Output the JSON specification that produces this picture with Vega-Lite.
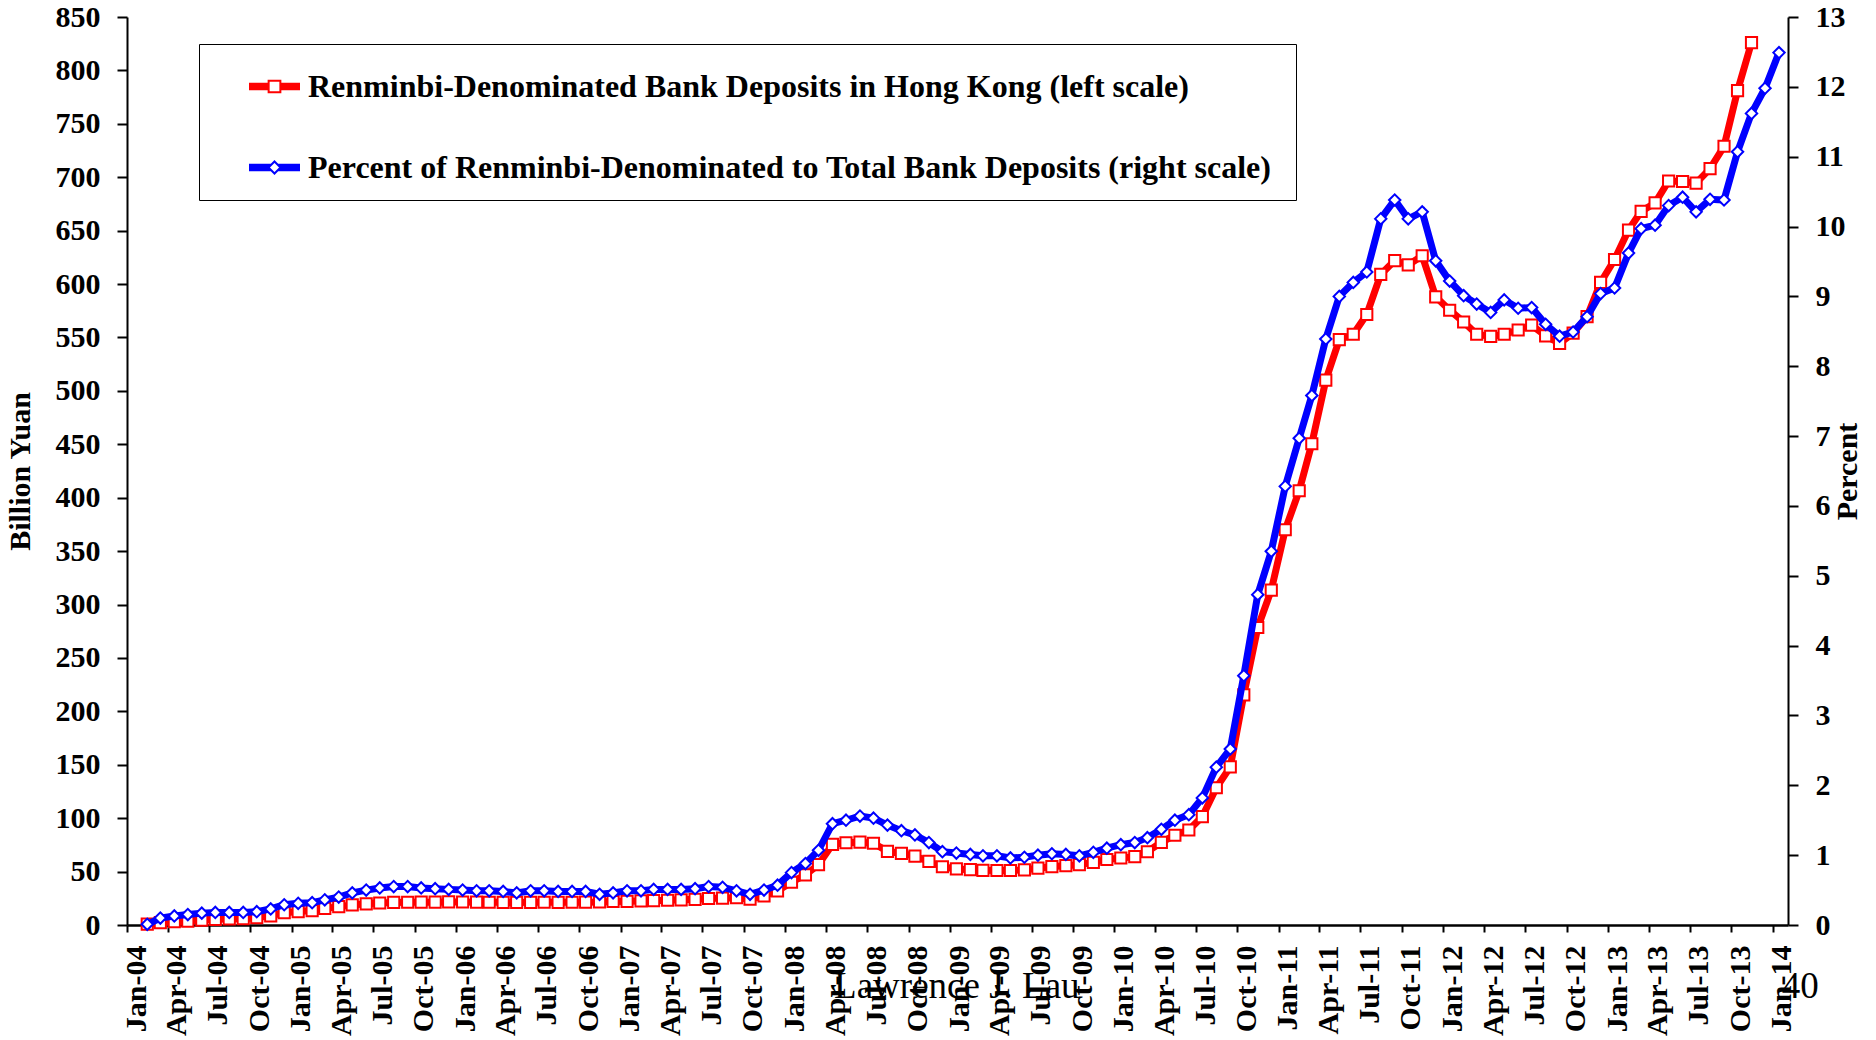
{
  "$schema": "https://vega.github.io/schema/vega-lite/v6.json",
  "autosize": {"type": "none"},
  "padding": {"left": 127, "top": 17, "right": 88, "bottom": 115},
  "width": 1661,
  "height": 908,
  "background": "white",
  "config": {"view": {"stroke": null}},
  "data": {"values": [
    {"date":"2004-02-15","deposits":0.9,"percent":0.01},{"date":"2004-03-15","deposits":2.2,"percent":0.10},{"date":"2004-04-15","deposits":3.1,"percent":0.13},{"date":"2004-05-15","deposits":3.7,"percent":0.15},{"date":"2004-06-15","deposits":4.6,"percent":0.17},{"date":"2004-07-15","deposits":5.3,"percent":0.18},{"date":"2004-08-15","deposits":5.6,"percent":0.18},{"date":"2004-09-15","deposits":5.9,"percent":0.18},{"date":"2004-10-15","deposits":6.9,"percent":0.19},{"date":"2004-11-15","deposits":8.5,"percent":0.23},{"date":"2004-12-15","deposits":11.5,"percent":0.29},
    {"date":"2005-01-15","deposits":12.6,"percent":0.31},{"date":"2005-02-15","deposits":13.5,"percent":0.32},{"date":"2005-03-15","deposits":15.5,"percent":0.36},{"date":"2005-04-15","deposits":17.2,"percent":0.40},{"date":"2005-05-15","deposits":18.8,"percent":0.46},{"date":"2005-06-15","deposits":19.8,"percent":0.50},{"date":"2005-07-15","deposits":20.6,"percent":0.53},{"date":"2005-08-15","deposits":21.1,"percent":0.55},{"date":"2005-09-15","deposits":21.3,"percent":0.55},{"date":"2005-10-15","deposits":21.4,"percent":0.53},{"date":"2005-11-15","deposits":21.4,"percent":0.52},{"date":"2005-12-15","deposits":21.6,"percent":0.51},
    {"date":"2006-01-15","deposits":21.5,"percent":0.50},{"date":"2006-02-15","deposits":21.4,"percent":0.49},{"date":"2006-03-15","deposits":21.3,"percent":0.49},{"date":"2006-04-15","deposits":21.2,"percent":0.48},{"date":"2006-05-15","deposits":21.1,"percent":0.46},{"date":"2006-06-15","deposits":21.2,"percent":0.49},{"date":"2006-07-15","deposits":21.3,"percent":0.49},{"date":"2006-08-15","deposits":21.2,"percent":0.48},{"date":"2006-09-15","deposits":21.3,"percent":0.48},{"date":"2006-10-15","deposits":21.4,"percent":0.48},{"date":"2006-11-15","deposits":21.5,"percent":0.44},{"date":"2006-12-15","deposits":22.0,"percent":0.46},
    {"date":"2007-01-15","deposits":22.2,"percent":0.49},{"date":"2007-02-15","deposits":22.5,"percent":0.49},{"date":"2007-03-15","deposits":22.8,"percent":0.51},{"date":"2007-04-15","deposits":23.2,"percent":0.51},{"date":"2007-05-15","deposits":23.6,"percent":0.51},{"date":"2007-06-15","deposits":24.0,"percent":0.52},{"date":"2007-07-15","deposits":24.8,"percent":0.55},{"date":"2007-08-15","deposits":25.2,"percent":0.54},{"date":"2007-09-15","deposits":25.5,"percent":0.49},{"date":"2007-10-15","deposits":24.2,"percent":0.44},{"date":"2007-11-15","deposits":27.2,"percent":0.50},{"date":"2007-12-15","deposits":32.0,"percent":0.57},
    {"date":"2008-01-15","deposits":40.0,"percent":0.75},{"date":"2008-02-15","deposits":47.0,"percent":0.88},{"date":"2008-03-15","deposits":56.5,"percent":1.07},{"date":"2008-04-15","deposits":75.5,"percent":1.45},{"date":"2008-05-15","deposits":77.0,"percent":1.50},{"date":"2008-06-15","deposits":77.5,"percent":1.56},{"date":"2008-07-15","deposits":76.5,"percent":1.53},{"date":"2008-08-15","deposits":69.0,"percent":1.43},{"date":"2008-09-15","deposits":67.0,"percent":1.35},{"date":"2008-10-15","deposits":64.5,"percent":1.29},{"date":"2008-11-15","deposits":59.5,"percent":1.18},{"date":"2008-12-15","deposits":54.5,"percent":1.05},
    {"date":"2009-01-15","deposits":52.5,"percent":1.03},{"date":"2009-02-15","deposits":51.8,"percent":1.01},{"date":"2009-03-15","deposits":51.2,"percent":0.99},{"date":"2009-04-15","deposits":51.0,"percent":0.99},{"date":"2009-05-15","deposits":51.0,"percent":0.96},{"date":"2009-06-15","deposits":51.6,"percent":0.97},{"date":"2009-07-15","deposits":53.2,"percent":1.00},{"date":"2009-08-15","deposits":54.7,"percent":1.02},{"date":"2009-09-15","deposits":55.5,"percent":1.01},{"date":"2009-10-15","deposits":56.5,"percent":0.99},{"date":"2009-11-15","deposits":58.6,"percent":1.04},{"date":"2009-12-15","deposits":61.3,"percent":1.10},
    {"date":"2010-01-15","deposits":62.7,"percent":1.15},{"date":"2010-02-15","deposits":64.0,"percent":1.18},{"date":"2010-03-15","deposits":68.6,"percent":1.25},{"date":"2010-04-15","deposits":77.4,"percent":1.37},{"date":"2010-05-15","deposits":84.0,"percent":1.50},{"date":"2010-06-15","deposits":88.9,"percent":1.58},{"date":"2010-07-15","deposits":101.5,"percent":1.82},{"date":"2010-08-15","deposits":128.5,"percent":2.26},{"date":"2010-09-15","deposits":148.0,"percent":2.52},{"date":"2010-10-15","deposits":215.5,"percent":3.57},{"date":"2010-11-15","deposits":278.5,"percent":4.73},{"date":"2010-12-15","deposits":313.5,"percent":5.35},
    {"date":"2011-01-15","deposits":370.0,"percent":6.28},{"date":"2011-02-15","deposits":406.5,"percent":6.97},{"date":"2011-03-15","deposits":450.5,"percent":7.58},{"date":"2011-04-15","deposits":510.0,"percent":8.39},{"date":"2011-05-15","deposits":548.0,"percent":9.00},{"date":"2011-06-15","deposits":553.0,"percent":9.20},{"date":"2011-07-15","deposits":571.5,"percent":9.35},{"date":"2011-08-15","deposits":609.0,"percent":10.11},{"date":"2011-09-15","deposits":622.0,"percent":10.38},{"date":"2011-10-15","deposits":618.0,"percent":10.11},{"date":"2011-11-15","deposits":626.5,"percent":10.21},{"date":"2011-12-15","deposits":588.0,"percent":9.51},
    {"date":"2012-01-15","deposits":575.5,"percent":9.22},{"date":"2012-02-15","deposits":564.5,"percent":9.01},{"date":"2012-03-15","deposits":553.0,"percent":8.89},{"date":"2012-04-15","deposits":551.0,"percent":8.77},{"date":"2012-05-15","deposits":553.0,"percent":8.95},{"date":"2012-06-15","deposits":557.0,"percent":8.83},{"date":"2012-07-15","deposits":561.5,"percent":8.84},{"date":"2012-08-15","deposits":551.5,"percent":8.60},{"date":"2012-09-15","deposits":544.5,"percent":8.43},{"date":"2012-10-15","deposits":554.0,"percent":8.49},{"date":"2012-11-15","deposits":569.5,"percent":8.71},{"date":"2012-12-15","deposits":601.5,"percent":9.04},
    {"date":"2013-01-15","deposits":623.0,"percent":9.12},{"date":"2013-02-15","deposits":650.5,"percent":9.62},{"date":"2013-03-15","deposits":668.0,"percent":9.97},{"date":"2013-04-15","deposits":676.0,"percent":10.02},{"date":"2013-05-15","deposits":696.5,"percent":10.30},{"date":"2013-06-15","deposits":696.0,"percent":10.42},{"date":"2013-07-15","deposits":694.5,"percent":10.21},{"date":"2013-08-15","deposits":708.0,"percent":10.39},{"date":"2013-09-15","deposits":729.0,"percent":10.38},{"date":"2013-10-15","deposits":781.0,"percent":11.07},{"date":"2013-11-15","deposits":826.0,"percent":11.62},{"date":"2013-12-15","deposits":null,"percent":11.98},
    {"date":"2014-01-15","deposits":null,"percent":12.49}
  ]},
  "encoding": {
    "x": {
      "field": "date", "type": "temporal",
      "scale": {"type": "utc", "domain": [{"year": 2004, "month": 1, "date": 1, "utc": true}, {"year": 2014, "month": 2, "date": 4, "utc": true}]},
      "axis": {
        "title": null,
        "tickCount": {"interval": "month", "step": 3},
        "labelExpr": "utcFormat(datum.value, '%b-%y')",
        "labelAngle": -90, "labelOffset": 9, "labelPadding": 13,
        "labelFont": "Liberation Serif", "labelFontWeight": "bold", "labelFontSize": 30, "labelColor": "black",
        "labelOverlap": false, "labelFlush": false, "labelBound": false,
        "tickSize": 7, "tickWidth": 2, "tickColor": "black",
        "domainColor": "black", "domainWidth": 2.5, "grid": false
      }
    }
  },
  "layer": [
    {
      "encoding": {
        "y": {
          "field": "deposits", "type": "quantitative",
          "scale": {"domain": [0, 850], "nice": false},
          "axis": {
            "orient": "left", "title": "Billion Yuan",
            "values": [0,50,100,150,200,250,300,350,400,450,500,550,600,650,700,750,800,850],
            "labelFont": "Liberation Serif", "labelFontWeight": "bold", "labelFontSize": 30, "labelColor": "black", "labelPadding": 17,
            "tickSize": 10, "tickWidth": 2, "tickColor": "black", "domainColor": "black", "domainWidth": 2, "grid": false,
            "titleFont": "Liberation Serif", "titleFontWeight": "bold", "titleFontSize": 30, "titleColor": "black", "titlePadding": 20
          }
        }
      },
      "layer": [
        {"mark": {"type": "line", "color": "#ff0000", "strokeWidth": 7}},
        {
          "mark": {"type": "point", "shape": "square", "size": 125, "fill": "white", "strokeWidth": 2, "opacity": 1},
          "encoding": {
            "stroke": {
              "datum": "Renminbi-Denominated Bank Deposits in Hong Kong (left scale)", "type": "nominal",
              "scale": {"domain": ["Renminbi-Denominated Bank Deposits in Hong Kong (left scale)", "Percent of Renminbi-Denominated  to Total Bank Deposits (right scale)"], "range": ["#ff0000", "#0000ff"]},
              "legend": {
                "title": null, "orient": "none", "legendX": 72, "legendY": 27, "direction": "vertical",
                "padding": 16, "strokeColor": "black", "fillColor": "white",
                "symbolSize": 2601, "symbolOffset": 33, "labelOffset": 7, "rowPadding": 38,
                "symbolStrokeWidth": 2,
                "symbolType": {"expr": "datum.index === 0 ? 'M-1,-0.105L-0.23,-0.105M-1,-0.035L-0.23,-0.035M-1,0.035L-0.23,0.035M-1,0.105L-0.23,0.105M0.23,-0.105L1,-0.105M0.23,-0.035L1,-0.035M0.23,0.035L1,0.035M0.23,0.105L1,0.105M-0.23,-0.23L0.23,-0.23L0.23,0.23L-0.23,0.23Z' : 'M-1,-0.105L-0.13,-0.105M-1,-0.035L-0.2,-0.035M-1,0.035L-0.2,0.035M-1,0.105L-0.13,0.105M0.13,-0.105L1,-0.105M0.2,-0.035L1,-0.035M0.2,0.035L1,0.035M0.13,0.105L1,0.105M0,-0.235L0.235,0L0,0.235L-0.235,0Z'"},
                "labelFont": "Liberation Serif", "labelFontWeight": "bold", "labelFontSize": 32, "labelColor": "black", "labelLimit": 3000
              }
            }
          }
        },
        {
          "data": {"values": [
            {"date": "2009-01-16", "deposits": -58, "label": "Lawrence J. Lau"},
            {"date": "2014-03-03", "deposits": -58, "label": "40"}
          ]},
          "mark": {"type": "text", "font": "Liberation Serif", "fontSize": 37, "color": "black", "align": "center", "baseline": "middle"},
          "encoding": {"text": {"field": "label", "type": "nominal"}}
        }
      ]
    },
    {
      "encoding": {
        "y": {
          "field": "percent", "type": "quantitative",
          "scale": {"domain": [0, 13], "nice": false},
          "axis": {
            "orient": "right", "title": "Percent", "titleAngle": 270,
            "values": [0,1,2,3,4,5,6,7,8,9,10,11,12,13],
            "labelFont": "Liberation Serif", "labelFontWeight": "bold", "labelFontSize": 30, "labelColor": "black", "labelPadding": 17,
            "tickSize": 10, "tickWidth": 2, "tickColor": "black", "domainColor": "black", "domainWidth": 2, "grid": false,
            "titleFont": "Liberation Serif", "titleFontWeight": "bold", "titleFontSize": 30, "titleColor": "black", "titlePadding": 17
          }
        }
      },
      "layer": [
        {"mark": {"type": "line", "color": "#0000ff", "strokeWidth": 7}},
        {
          "mark": {"type": "point", "shape": "diamond", "size": 130, "fill": "white", "strokeWidth": 2, "opacity": 1},
          "encoding": {
            "stroke": {
              "datum": "Percent of Renminbi-Denominated  to Total Bank Deposits (right scale)", "type": "nominal"
            }
          }
        }
      ]
    }
  ],
  "resolve": {"scale": {"y": "independent"}}
}
